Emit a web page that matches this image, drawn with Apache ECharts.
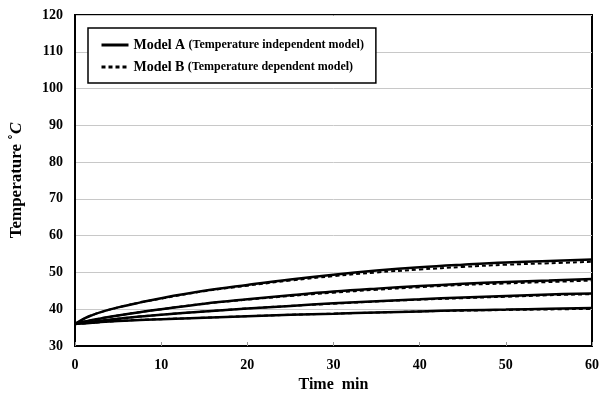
<!DOCTYPE html>
<html><head><meta charset="utf-8">
<script src="https://cdn.jsdelivr.net/npm/echarts@6/dist/echarts.min.js"></script>
<style>html,body{margin:0;padding:0;background:#fff}#c{width:603px;height:399px}</style>
</head><body><div id="c"></div>
<script>
const times = [0, 1, 2, 3, 5, 7.5, 10, 15, 20, 25, 30, 35, 40, 45, 50, 55, 60];
const modelA1 = [36, 37.4, 38.4, 39.2, 40.5, 41.8, 43.0, 45.0, 46.6, 48.1, 49.4, 50.5, 51.4, 52.1, 52.7, 53.1, 53.5];
const modelB1 = [36, 37.4, 38.4, 39.2, 40.5, 41.8, 42.9, 44.9, 46.4, 47.8, 49.0, 50.0, 50.8, 51.5, 52.1, 52.5, 52.9];
const modelA2 = [36, 36.6, 37.1, 37.5, 38.3, 39.2, 40.0, 41.5, 42.7, 43.8, 44.8, 45.6, 46.3, 46.9, 47.4, 47.8, 48.2];
const modelB2 = [36, 36.6, 37.1, 37.5, 38.3, 39.2, 40.0, 41.5, 42.6, 43.6, 44.5, 45.3, 46.0, 46.6, 47.0, 47.4, 47.8];
const modelA3 = [36, 36.3, 36.6, 36.9, 37.4, 38.0, 38.5, 39.4, 40.2, 40.9, 41.6, 42.2, 42.7, 43.2, 43.6, 44.0, 44.3];
const modelB3 = [36, 36.3, 36.6, 36.9, 37.4, 38.0, 38.5, 39.4, 40.2, 40.9, 41.5, 42.1, 42.6, 43.0, 43.4, 43.8, 44.1];
const modelA4 = [36, 36.15, 36.3, 36.5, 36.8, 37.1, 37.3, 37.7, 38.1, 38.5, 38.8, 39.1, 39.4, 39.7, 39.9, 40.1, 40.3];
const modelB4 = [36, 36.15, 36.3, 36.5, 36.8, 37.1, 37.3, 37.7, 38.1, 38.5, 38.8, 39.1, 39.4, 39.6, 39.8, 39.95, 40.1];
const legendNames = ['Model A', 'Model B'];
const legendNotes = {'Model A': '(Temperature independent model)', 'Model B': '(Temperature dependent model)'};

const font = '"Liberation Serif", "Times New Roman", serif';
function pts(vals){ return times.map((t,i)=>[t, vals[i]]); }
function mk(name, vals, dashed){
  return {
    name: name, type: 'line', data: pts(vals), symbol: 'none', smooth: 0.4,
    lineStyle: dashed ? {color:'#000', width:2, type:[4,3]} : {color:'#000', width:2.5},
    itemStyle: {color:'#000'}, z: dashed ? 3 : 2, animation: false
  };
}
const chart = echarts.init(document.getElementById('c'));
chart.setOption({
  animation: false,
  backgroundColor: '#fff',
  grid: {left: 75, right: 11, top: 15, bottom: 53, show: true, borderColor: '#000', borderWidth: 2},
  legend: {
    data: legendNames, orient: 'vertical', left: 88, top: 28,
    padding: [10, 12, 9, 12], itemGap: 8, itemWidth: 27, itemHeight: 14,
    itemStyle: {opacity: 0},
    lineStyle: {width: 3},
    borderColor: '#000', borderWidth: 1.5, backgroundColor: '#fff',
    formatter: n => '{a|' + n + '} {b|' + legendNotes[n] + '}',
    textStyle: {
      color: '#000',
      rich: {
        a: {fontFamily: font, fontWeight: 'bold', fontSize: 14, color: '#000'},
        b: {fontFamily: font, fontWeight: 'bold', fontSize: 12, color: '#000'}
      }
    }
  },
  xAxis: {
    type: 'value', min: 0, max: 60, interval: 10,
    name: 'Time  min', nameLocation: 'middle', nameGap: 30,
    nameTextStyle: {fontFamily: font, fontWeight: 'bold', fontSize: 16, color: '#000'},
    axisLine: {lineStyle: {color: '#000', width: 2}},
    axisTick: {inside: true, length: 4, lineStyle: {color: '#999'}},
    splitLine: {show: false},
    axisLabel: {fontFamily: font, fontWeight: 'bold', fontSize: 14, color: '#000', margin: 12}
  },
  yAxis: {
    type: 'value', min: 30, max: 120, interval: 10,
    name: 'Temperature ˚{i|C}', nameLocation: 'middle', nameGap: 50,
    nameTextStyle: {fontFamily: font, fontWeight: 'bold', fontSize: 17, color: '#000',
      rich: {i: {fontFamily: font, fontWeight: 'bold', fontStyle: 'italic', fontSize: 17, color: '#000'}}},
    axisLine: {lineStyle: {color: '#000', width: 2}},
    axisTick: {show: false},
    splitLine: {lineStyle: {color: '#c8c8c8', width: 1}},
    axisLabel: {fontFamily: font, fontWeight: 'bold', fontSize: 14, color: '#000', margin: 12}
  },
  series: [
    mk('Model A', modelA1, false), mk('Model B', modelB1, true),
    mk('Model A', modelA2, false), mk('Model B', modelB2, true),
    mk('Model A', modelA3, false), mk('Model B', modelB3, true),
    mk('Model A', modelA4, false), mk('Model B', modelB4, true)
  ]
});
</script></body></html>
